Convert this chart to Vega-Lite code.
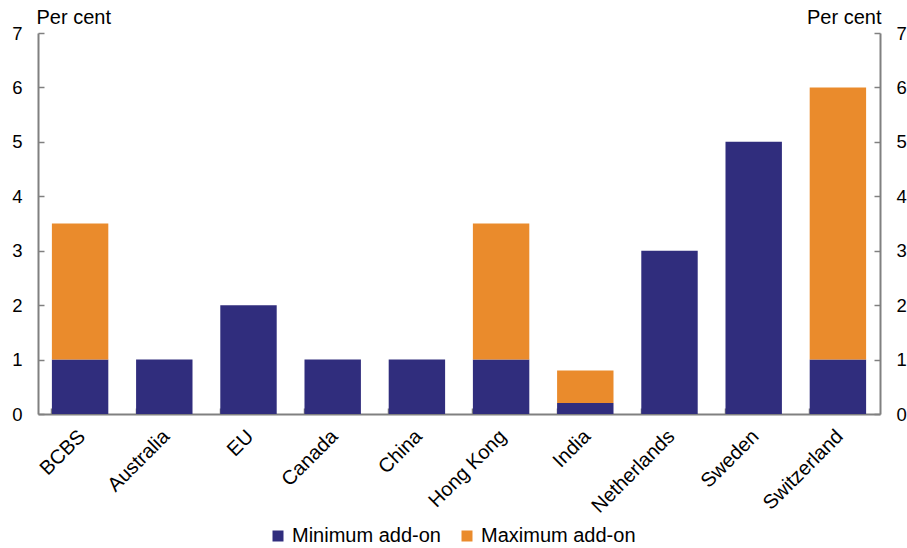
{
  "$schema": "https://vega.github.io/schema/vega-lite/v6.json",
  "autosize": {"type": "none"},
  "padding": {"left": 38, "top": 33, "right": 27, "bottom": 134},
  "width": 842,
  "height": 381,
  "background": "white",
  "config": {
    "view": {"stroke": null},
    "font": "Liberation Sans",
    "axis": {"domainColor": "#808080", "tickColor": "#808080", "domainWidth": 2, "tickWidth": 1.5, "grid": false, "labelColor": "black", "titleColor": "black", "labelFont": "Liberation Sans", "titleFont": "Liberation Sans", "labelFontSize": 18.5, "titleFontSize": 20, "titleFontWeight": "normal"}
  },
  "data": {"values": [
    {"country": "BCBS", "type": "Minimum add-on", "value": 1, "ord": 1},
    {"country": "BCBS", "type": "Maximum add-on", "value": 2.5, "ord": 2},
    {"country": "Australia", "type": "Minimum add-on", "value": 1, "ord": 1},
    {"country": "EU", "type": "Minimum add-on", "value": 2, "ord": 1},
    {"country": "Canada", "type": "Minimum add-on", "value": 1, "ord": 1},
    {"country": "China", "type": "Minimum add-on", "value": 1, "ord": 1},
    {"country": "Hong Kong", "type": "Minimum add-on", "value": 1, "ord": 1},
    {"country": "Hong Kong", "type": "Maximum add-on", "value": 2.5, "ord": 2},
    {"country": "India", "type": "Minimum add-on", "value": 0.2, "ord": 1},
    {"country": "India", "type": "Maximum add-on", "value": 0.6, "ord": 2},
    {"country": "Netherlands", "type": "Minimum add-on", "value": 3, "ord": 1},
    {"country": "Sweden", "type": "Minimum add-on", "value": 5, "ord": 1},
    {"country": "Switzerland", "type": "Minimum add-on", "value": 1, "ord": 1},
    {"country": "Switzerland", "type": "Maximum add-on", "value": 5, "ord": 2}
  ]},
  "encoding": {
    "x": {
      "field": "country", "type": "nominal", "sort": null,
      "scale": {"paddingInner": 0.33, "paddingOuter": 0.165},
      "axis": {"title": null, "labelAngle": -45, "labelAlign": "right", "labelBaseline": "middle", "bandPosition": 0, "tickSize": -6, "labelPadding": 25, "labelFontSize": 20, "labelOffset": 2}
    },
    "y": {
      "field": "value", "type": "quantitative", "stack": "zero",
      "scale": {"domain": [0, 7], "nice": false}
    },
    "color": {
      "field": "type", "type": "nominal",
      "scale": {"domain": ["Minimum add-on", "Maximum add-on"], "range": ["#302D7D", "#EA8B2C"]},
      "legend": {"title": null, "orient": "none", "direction": "horizontal", "legendX": 230, "legendY": 493, "symbolType": "square", "symbolSize": 121, "symbolOpacity": 1, "labelFontSize": 20, "labelFont": "Liberation Sans", "labelColor": "black", "labelOffset": 4, "columnPadding": 16, "symbolStrokeWidth": 0}
    },
    "order": {"field": "ord", "type": "quantitative"}
  },
  "layer": [
    {
      "mark": {"type": "bar"},
      "encoding": {
        "y": {"field": "value", "type": "quantitative", "stack": "zero",
          "axis": {"orient": "left", "title": "Per cent", "titleAngle": 0, "titleAlign": "left", "titleBaseline": "alphabetic", "titleX": -2, "titleY": -10, "values": [0,1,2,3,4,5,6,7], "tickSize": -6, "labelPadding": 22}}
      }
    },
    {
      "mark": {"type": "bar", "opacity": 0},
      "encoding": {
        "y": {"field": "value", "type": "quantitative", "stack": "zero",
          "axis": {"orient": "right", "title": "Per cent", "titleAngle": 0, "titleAlign": "right", "titleBaseline": "alphabetic", "titleX": 1, "titleY": -10, "values": [0,1,2,3,4,5,6,7], "tickSize": -6, "labelPadding": 22}}
      }
    }
  ],
  "resolve": {"axis": {"y": "independent"}}
}
